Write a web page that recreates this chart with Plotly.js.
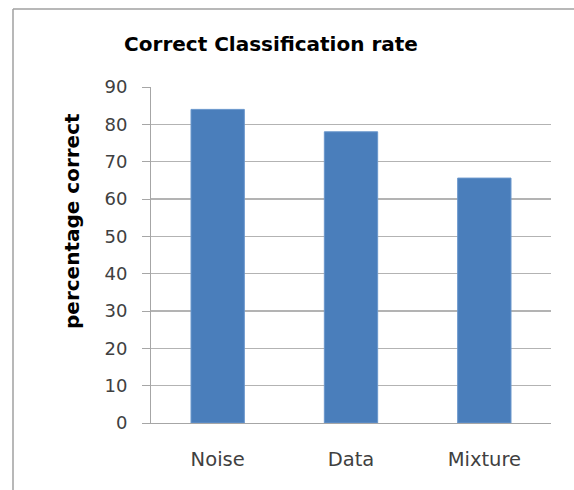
<!DOCTYPE html>
<html>
<head>
<meta charset="utf-8">
<script src="https://cdn.plot.ly/plotly-3.0.1.min.js"></script>
<style>html,body{margin:0;padding:0;background:#fff;}#chart{width:574px;height:490px;}</style>
</head>
<body>
<div id="chart"></div>
<script>
const categories = ["Noise", "Data", "Mixture"];
const values = [84, 78, 65.6];
const yTicks = [0, 10, 20, 30, 40, 50, 60, 70, 80, 90];
const chartTitle = "Correct Classification rate";
const yTitle = "percentage correct";

const FONT = "'DejaVu Sans', 'Open Sans', sans-serif";

const trace = {
  type: "bar",
  x: categories,
  y: values,
  marker: { color: "#4a7ebb", line: { color: "#6a97cc", width: 1 } },
  hoverinfo: "x+y"
};

const layout = {
  width: 574,
  height: 490,
  margin: { l: 151, r: 23, t: 87, b: 67 },
  paper_bgcolor: "#ffffff",
  plot_bgcolor: "#ffffff",
  bargap: 0.6,
  showlegend: false,
  font: { family: FONT, color: "#404040" },
  title: {
    text: "<b>" + chartTitle + "</b>",
    font: { size: 20, color: "#000000", family: FONT },
    x: 271 / 574, xanchor: "center", xref: "container",
    y: 1 - 44 / 490, yanchor: "middle", yref: "container"
  },
  xaxis: {
    type: "category",
    showgrid: false,
    showline: true,
    linecolor: "#a6a6a6",
    linewidth: 1,
    ticks: "",
    tickfont: { size: 19.5, color: "#404040", family: FONT },
    ticklabelstandoff: 19,
    zeroline: false,
    fixedrange: true
  },
  yaxis: {
    range: [0, 90],
    tickmode: "array",
    tickvals: yTicks,
    ticktext: yTicks.map(String),
    showgrid: true,
    gridcolor: "#b3b3b3",
    gridwidth: 1.4,
    showline: true,
    linecolor: "#a6a6a6",
    linewidth: 1,
    ticks: "outside",
    ticklen: 8,
    tickcolor: "#a6a6a6",
    tickfont: { size: 18, color: "#404040", family: FONT },
    ticklabelstandoff: 11,
    zeroline: false,
    fixedrange: true
  },
  annotations: [
    {
      text: "<b>" + yTitle + "</b>",
      textangle: -90,
      xref: "paper", yref: "paper",
      x: (72 - 151) / 400, y: (423 - 221) / 336,
      xanchor: "center", yanchor: "middle",
      showarrow: false,
      font: { size: 20, color: "#000000", family: FONT }
    }
  ],
  shapes: [
    { type: "line", xref: "paper", yref: "paper",
      x0: -138 / 400, x1: 423 / 400, y0: (423 - 9) / 336, y1: (423 - 9) / 336,
      line: { color: "#a0a0a0", width: 1.5 } },
    { type: "line", xref: "paper", yref: "paper",
      x0: -138 / 400, x1: -138 / 400, y0: (423 - 9) / 336, y1: (423 - 500) / 336,
      line: { color: "#a0a0a0", width: 1.5 } }
  ]
};

Plotly.newPlot("chart", [trace], layout, { displayModeBar: false, staticPlot: true });
</script>
</body>
</html>
